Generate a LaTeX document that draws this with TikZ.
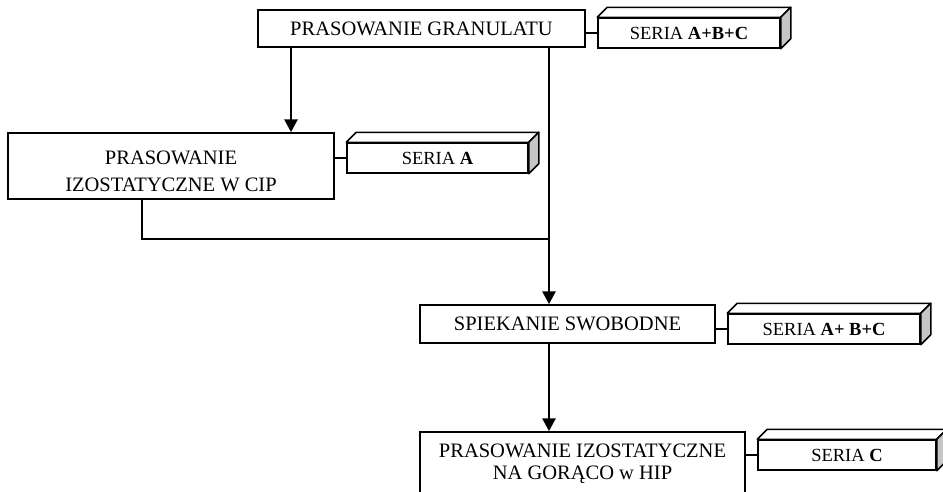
\documentclass[tikz,border=0pt]{standalone}
\usepackage{fontspec}
\setmainfont{Liberation Serif}
\usetikzlibrary{arrows.meta}
\tikzset{
  procbox/.style={draw, line width=1.5pt, fill=white, inner sep=0pt, align=center, font=\fontsize{20.5}{22}\selectfont},
  proctext/.style={inner sep=0pt, align=center, font=\fontsize{20.5}{27}\selectfont},
  seriabox/.style={draw, line width=1.5pt, fill=white, inner sep=0pt, font=\fontsize{18.5}{20}\selectfont},
  flow/.style={line width=2.8pt, -{Triangle[width=13pt,length=13pt]}},
  link/.style={line width=1.5pt},
}
\newcommand\mythreed[1]{%
  \draw[line width=1.5pt, fill=white, line join=round] (#1.north west) -- ++(10pt,10pt) -- ([xshift=10pt,yshift=10pt]#1.north east) -- (#1.north east) -- cycle;
  \draw[line width=1.5pt, fill=gray!45, line join=round] (#1.north east) -- ++(10pt,10pt) -- ([xshift=10pt,yshift=10pt]#1.south east) -- (#1.south east) -- cycle;
}
\begin{document}
\begin{tikzpicture}[x=1pt,y=-1pt]
\useasboundingbox (0,0) rectangle (943,491);
\clip (0,0) rectangle (943,491);
% process boxes
\node[procbox, minimum width=327pt, minimum height=37pt] (b1) at (421.5,28.5) {PRASOWANIE GRANULATU};
\node[procbox, minimum width=326pt, minimum height=66pt] (b2) at (171,166) {};
\node[proctext] (b2t) at ([yshift=-5pt]b2.center) {PRASOWANIE\\IZOSTATYCZNE W CIP};
\node[procbox, minimum width=295pt, minimum height=38pt] (b3) at (567.5,324) {SPIEKANIE SWOBODNE};
\node[procbox, minimum width=325pt, minimum height=64pt] (b4) at (582.5,464) {PRASOWANIE IZOSTATYCZNE\\NA GORĄCO w HIP};
% seria boxes
\node[seriabox, minimum width=182pt, minimum height=30pt] (s1) at (689,33) {SERIA \textbf{A+B+C}};
\node[seriabox, minimum width=181pt, minimum height=30pt] (s2) at (437.5,158) {SERIA \textbf{A}};
\node[seriabox, minimum width=192pt, minimum height=30pt] (s3) at (824,329) {SERIA \textbf{A+ B+C}};
\node[seriabox, minimum width=178pt, minimum height=30pt] (s4) at (847,455) {SERIA \textbf{C}};
\mythreed{s1}
\mythreed{s2}
\mythreed{s3}
\mythreed{s4}
% links to seria
\draw[link] (s1.west) -- (s1.west -| b1.east);
\draw[link] (s2.west) -- (s2.west -| b2.east);
\draw[link] (s3.west) -- (s3.west -| b3.east);
\draw[link] (s4.west) -- (s4.west -| b4.east);
% flow
\coordinate (j) at (549,239);
\coordinate (k) at (142,239);
\coordinate (l) at (291,0);
\draw[flow] (b1.south -| l) -- (b2.north -| l);
\draw[flow] (b1.south -| j) -- (b3.north -| j);
\draw[link] (b2.south -| k) -- (k) -- (j);
\draw[flow] (b3.south -| j) -- (b4.north -| j);
\end{tikzpicture}
\end{document}
